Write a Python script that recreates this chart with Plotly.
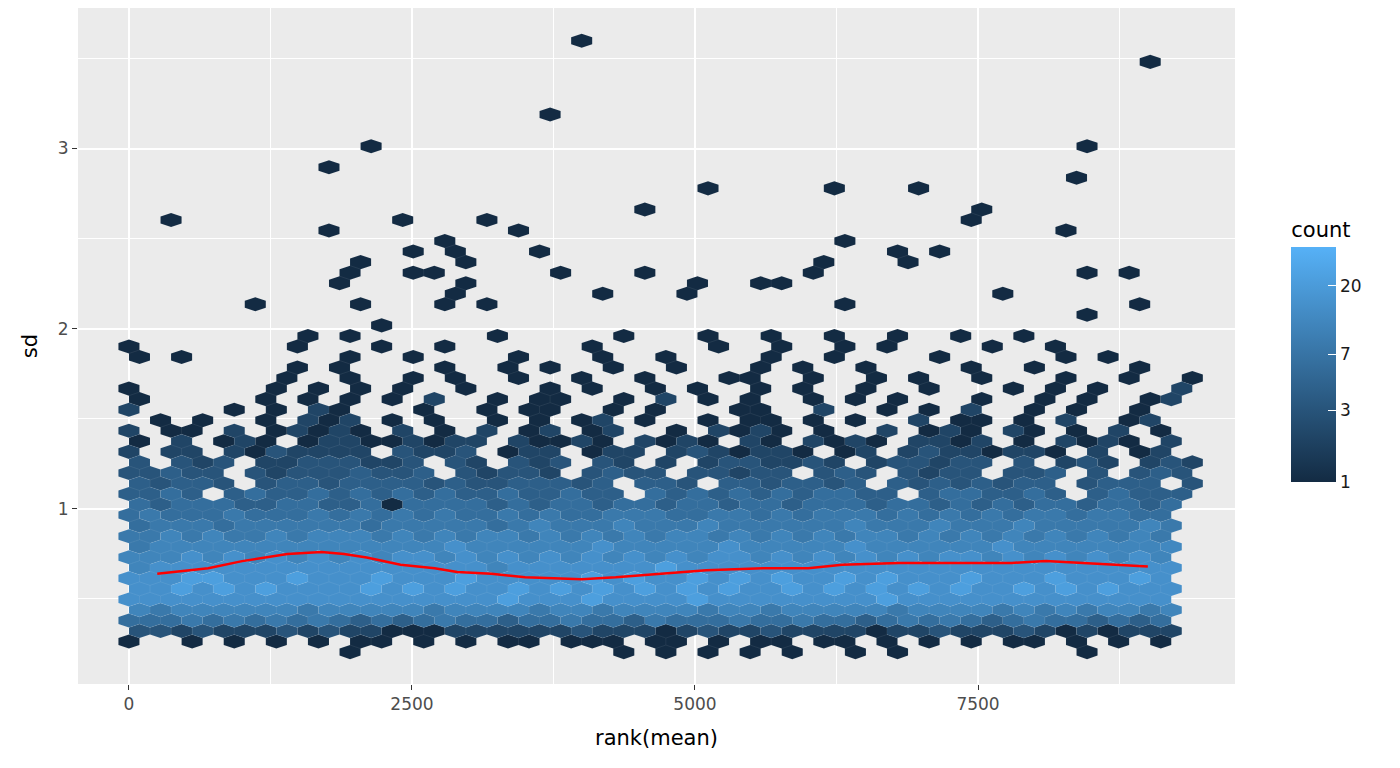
import math
import plotly.graph_objects as go

# hex lattice: columns every 93 units in x, rows every 0.0585 in y
X_STEP = 93.0
Y0 = 0.205
Y_STEP = 0.0585

# dense part of the hexbin, one string per row (row 0 = bottom), one char per cell
# digits are count levels, blank = empty cell
rows = [
    "          " "1         " "   1 1 1 1" " 1  1 1   " "     1     ",
    "1  1 1 1 1" " 11 1 1 11" " 111 11 1 " "11 11 1 1 " "1 11 1 1 1 ",
    "3323222323" "2211122222" "2322212322" "3222212232" "2232121222 ",
    "5556565656" "5454565545" "5655465556" "5565545656" "5456554545 ",
    "7677777767" "7777677776" "7767777677" "6777776777" "7676767767 ",
    "8888888888" "8888888898" "8898888988" "8888889888" "8888888888 ",
    "8898989888" "8989898898" "9898989898" "8989898989" "8898989888 ",
    "8889988898" "8898889888" "8898988989" "8988989888" "9888988898 ",
    "7888888888" "8888888788" "8888898888" "8888888888" "8888888888 ",
    "7778787878" "7878878787" "8787878788" "7878787878" "8787878787 ",
    "6777777777" "7777787777" "7787777787" "7777877777" "7877777777 ",
    "6676766767" "7767676776" "7676767767" "6767677676" "7676767676 ",
    "5666566666" "6566666567" "6667666766" "6666766676" "6676666676 ",
    "5655565556" "5656565565" "6556665566" "5656665656" "5656656655 ",
    "5455544554" "4515555454" "5545545545" "5455545545" "4545545545 ",
    "4454 45445" "4545454454" "4544 54545" "4545544 45" "54454 45444 ",
    "43443 3443" "4444343344" "434 443 44" "34434 4343" "4344 3444 3 ",
    "33433 3233" "34334 3233" "2 3433 332" "33 343 323" "3 334 3 343 ",
    "3 323 2233" "3223 32 32" "3 32 2 233" "2232 23323" "3 3 232 232 ",
    "2 22 21322" "22 3223 12" "2 122 2321" "221 12 232" "21221 2 12 1",
    "1 2 121 12" "2112122 21" "121 2121 2" "1 2121 221" "2 1 2121 2 ",
    "2 11 2 121" "21 2 1 2 1" "2 12  1 21" "21 1  2 12" "1 21 1 2 1 1",
    " 1 1  1 21" "2 1 1  1 1" " 12 1  1 1" "1 1 1  2 1" "1 1 2  12  ",
    "2    1 1 2" "1   1  1 1" "1  1 1   1" "1  2  1 1 " "2  1 1  1  1",
    "1     1 1 " "1 1 2  1 1" "1  1 2 1 1" "  1 1 1   " "1  1 1  12  ",
    "1      1 1" " 1 1  1   " "1 1  1 1  " "1 1  1  1 " "  1 1 1   2",
    "       1  " "1  1 1  1 " " 1  1   11" "  1  1 1  " "1   1  1  1",
    "        1 " "1    1  1 " "1  1  1   " "1 1  1    " "1  1    1  ",
    "1 1       " "1  1    1 " "  1  1    " "1  1    1 " "    1 1    ",
    "1       1 " "  1  1    " "  1     1 " " 1  1 1   " " 1  1      ",
    "        1 " "1      1  " "   1   1  " "1  1  1  1" "  1        ",
]
level_counts = [1, 2, 3, 4, 6, 8, 11, 15, 22]

# single hexes outside the dense part
out_x = [350, 1850, 2200, 1750, 2400, 2500, 2780, 2850, 2950, 2700, 3150, 3400, 3600,
         3800, 3800, 4050, 4100, 4500, 4500, 5150, 5000, 4950, 6250, 6250, 6200, 6100,
         6700, 6800, 7050, 7100, 7350, 7450, 7800, 8200, 8400, 8500, 9000, 8550, 8750,
         8900, 8550, 1050, 1850, 1950, 2050, 2000, 2250, 2600, 2850, 2900, 2750, 3150,
         5600, 5700, 6350, 9300]
out_y = [2.63, 2.87, 2.99, 2.57, 2.63, 2.45, 2.51, 2.45, 2.39, 2.33, 2.63, 2.57, 2.45,
         3.17, 2.33, 3.58, 2.21, 2.69, 2.33, 2.75, 2.27, 2.21, 2.75, 2.51, 2.39, 2.33,
         2.45, 2.39, 2.75, 2.45, 2.63, 2.69, 2.21, 2.57, 2.81, 2.99, 3.46, 2.33, 2.33,
         2.15, 2.09, 2.15, 2.27, 2.33, 2.39, 2.15, 2.03, 2.33, 2.21, 2.27, 2.15, 2.15,
         2.27, 2.27, 2.15, 0.79]

# smoothed trend line
trend_x = [250, 700, 1000, 1400, 1700, 1900, 2100, 2400, 2700, 2900, 3200, 3500, 4000,
           4300, 4700, 5100, 5600, 6000, 6300, 6800, 7300, 7800, 8100, 8400, 8700, 9000]
trend_y = [0.64, 0.67, 0.71, 0.75, 0.76, 0.75, 0.73, 0.69, 0.67, 0.65, 0.64, 0.62, 0.61,
           0.62, 0.64, 0.66, 0.67, 0.67, 0.69, 0.70, 0.70, 0.70, 0.71, 0.70, 0.69, 0.68]

cells = {}
for j, row in enumerate(rows):
    for k, ch in enumerate(row.ljust(51)[:51]):
        if ch == " ":
            continue
        i = 2 * k + (1 if j % 2 == 0 else 0)
        cells[(i, j)] = level_counts[int(ch) - 1]
for x, y in zip(out_x, out_y):
    j = round((y - Y0) / Y_STEP)
    i = round(x / X_STEP)
    if (i + j) % 2 == 0:
        i = i + 1 if x / X_STEP > i else i - 1
    cells[(i, j)] = cells.get((i, j), 0) + 1

CMAX = math.log(36)
lo, hi = (0x13, 0x2B, 0x43), (0x56, 0xB1, 0xF7)


def colour(n):
    t = min(math.log(n) / CMAX, 1)
    return "rgb(%d,%d,%d)" % tuple(round(a + (b - a) * t) for a, b in zip(lo, hi))


hw, hh = X_STEP, Y_STEP * 2 / 3
groups = {}
for (i, j), n in cells.items():
    cx, cy = i * X_STEP, Y0 + j * Y_STEP
    xs = [cx, cx + hw, cx + hw, cx, cx - hw, cx - hw, cx, None]
    ys = [cy + hh, cy + hh / 2, cy - hh / 2, cy - hh, cy - hh / 2, cy + hh / 2, cy + hh, None]
    g = groups.setdefault(n, ([], []))
    g[0].extend(xs)
    g[1].extend(ys)

fig = go.Figure()
for n, (xs, ys) in sorted(groups.items()):
    c = colour(n)
    fig.add_trace(go.Scatter(x=xs, y=ys, mode="lines", fill="toself", fillcolor=c,
                             line=dict(color="rgba(255,255,255,0.08)", width=0.5),
                             hoverinfo="skip", showlegend=False))

fig.add_trace(go.Scatter(x=trend_x, y=trend_y, mode="lines", line=dict(color="red", width=2.5),
                         showlegend=False))

# colourbar holder
fig.add_trace(go.Scatter(
    x=[None], y=[None], mode="markers", showlegend=False,
    marker=dict(color=[0], cmin=0, cmax=CMAX, colorscale=[[0, "#132B43"], [1, "#56B1F7"]],
                colorbar=dict(title=dict(text="count", font=dict(size=21, color="black")),
                              tickvals=[math.log(v) for v in [1, 3, 7, 20]],
                              ticktext=["1", "3", "7", "20"],
                              ticks="inside", tickcolor="white", ticklen=8,
                              tickfont=dict(size=17, color="#1a1a1a"),
                              outlinewidth=0, thickness=45, len=0.42, lenmode="fraction",
                              x=1.04, xanchor="left", y=0.494, yanchor="middle")),
))

# the page adds an 8px body margin, so the margins are trimmed by that amount
fig.update_layout(
    width=1400, height=768,
    margin=dict(l=70, r=173, t=0, b=92, autoexpand=False),
    plot_bgcolor="#EBEBEB", paper_bgcolor="white",
    font=dict(family="DejaVu Sans", color="#4D4D4D"),
)
fig.update_xaxes(range=[-450, 9770], tickvals=[0, 2500, 5000, 7500], ticktext=["0", "2500", "5000", "7500"],
                 gridcolor="white", gridwidth=2, zeroline=False, ticks="outside", tickcolor="#333333",
                 ticklen=5, tickfont=dict(size=17),
                 minor=dict(tickvals=[1250, 3750, 6250, 8750], gridcolor="white", gridwidth=1),
                 title=dict(text="rank(mean)", font=dict(size=21, color="black"), standoff=16))
fig.update_yaxes(range=[0.028, 3.78], tickvals=[1, 2, 3], gridcolor="white", gridwidth=2,
                 zeroline=False, ticks="outside", tickcolor="#333333", ticklen=5, tickfont=dict(size=17),
                 minor=dict(tickvals=[0.5, 1.5, 2.5, 3.5], gridcolor="white", gridwidth=1),
                 title=dict(text="sd", font=dict(size=21, color="black"), standoff=14))

fig.write_html("out.html")
